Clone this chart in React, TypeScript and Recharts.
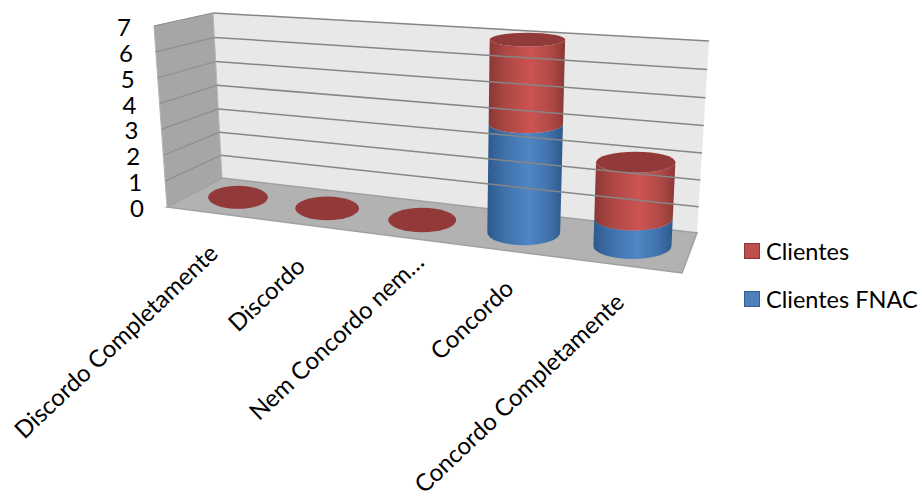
import React from "react";
import { BarChart, Bar, XAxis, YAxis, ReferenceLine, Legend, Customized } from "recharts";

// Survey answers and the two stacked respondent groups
const categories = [
  "Discordo Completamente",
  "Discordo",
  "Nem Concordo nem…",
  "Concordo",
  "Concordo Completamente",
];
const clientesFnac = [0, 0, 0, 4, 1];
const clientes = [0, 0, 0, 3, 2];
const valueTicks = [0, 1, 2, 3, 4, 5, 6, 7];

const rows = categories.map((categoria, i) => ({
  categoria,
  "Clientes FNAC": clientesFnac[i],
  Clientes: clientes[i],
}));

// Size of the flat plot that Recharts lays out before it is projected into the 3D box
const WIDTH = 922;
const HEIGHT = 500;
const MARGIN = { top: 20, right: 220, bottom: 150, left: 100 };
const Y_AXIS_W = 40;
const X_AXIS_H = 30;
const PLOT = {
  left: MARGIN.left + Y_AXIS_W,
  top: MARGIN.top,
  width: WIDTH - MARGIN.left - MARGIN.right - Y_AXIS_W,
  height: HEIGHT - MARGIN.top - MARGIN.bottom - X_AXIS_H,
};
const FONT = "Lato, 'Open Sans', sans-serif";
const LEGEND_SIZE = 23.5;
const CATEGORY_SIZE = 24;

type Pt = [number, number];

// Maps the unit square onto a quad given as bottom-left, bottom-right, top-right, top-left
function homography(p0: Pt, p1: Pt, p2: Pt, p3: Pt) {
  const dx1 = p1[0] - p2[0];
  const dx2 = p3[0] - p2[0];
  const sx = p0[0] - p1[0] + p2[0] - p3[0];
  const dy1 = p1[1] - p2[1];
  const dy2 = p3[1] - p2[1];
  const sy = p0[1] - p1[1] + p2[1] - p3[1];
  const det = dx1 * dy2 - dx2 * dy1;
  const g = (sx * dy2 - dx2 * sy) / det;
  const h = (dx1 * sy - sx * dy1) / det;
  const a = p1[0] - p0[0] + g * p1[0];
  const b = p3[0] - p0[0] + h * p3[0];
  const d = p1[1] - p0[1] + g * p1[1];
  const e = p3[1] - p0[1] + h * p3[1];
  return (u: number, v: number): Pt => {
    const w = g * u + h * v + 1;
    return [(a * u + b * v + p0[0]) / w, (d * u + e * v + p0[1]) / w];
  };
}

// Corners of the 3D box
const BACK_BL: Pt = [222, 178];
const BACK_BR: Pt = [697, 233];
const BACK_TR: Pt = [709, 41];
const BACK_TL: Pt = [213, 13];
const FRONT_BL: Pt = [167, 207];
const FRONT_BR: Pt = [682, 273];
const FRONT_TL: Pt = [154, 26];

const backWall = homography(BACK_BL, BACK_BR, BACK_TR, BACK_TL);
const barPlane = homography([195, 192], [689, 253], [699, 50], [188, 19]);

const toU = (x: number) => (x - PLOT.left) / PLOT.width;
const toV = (y: number) => (PLOT.top + PLOT.height - y) / PLOT.height;
const poly = (pts: Pt[]) => pts.map((p) => p.join(",")).join(" ");
// The closer a disc is to the floor, the more of its face is visible
const discTilt = (y: number) => 5.8 + 0.029 * y;

function disc(xLeft: number, xRight: number, yFlat: number) {
  const v = toV(yFlat);
  const l = barPlane(toU(xLeft), v);
  const r = barPlane(toU(xRight), v);
  const cy = (l[1] + r[1]) / 2;
  return { cx: (l[0] + r[0]) / 2, cy, rx: (r[0] - l[0]) / 2, ry: discTilt(cy) };
}

function Cylinder(props: any) {
  const { x, y, width, height, bodyFill, capFill, showCap } = props;
  const bottom = disc(x, x + width, y + height);
  const top = disc(x, x + width, y);
  const side =
    `M${bottom.cx - bottom.rx} ${bottom.cy} ` +
    `A${bottom.rx} ${bottom.ry} 0 0 0 ${bottom.cx + bottom.rx} ${bottom.cy} ` +
    `L${top.cx + top.rx} ${top.cy} ` +
    `A${top.rx} ${top.ry} 0 0 1 ${top.cx - top.rx} ${top.cy} Z`;
  return (
    <g>
      {height > 0 && <path d={side} fill={bodyFill} />}
      {showCap && <ellipse cx={top.cx} cy={top.cy} rx={top.rx} ry={top.ry} fill={capFill} />}
    </g>
  );
}

// Walls and floor of the box, painted behind the grid and the cylinders
function Box() {
  return (
    <g>
      <polygon points={poly([BACK_BL, BACK_BR, BACK_TR, BACK_TL])} fill="#e8e8e8" />
      <polygon points={poly([FRONT_BL, BACK_BL, BACK_TL, FRONT_TL])} fill="#a6a6a6" stroke="#b4b4b4" />
      <polygon points={poly([FRONT_BL, FRONT_BR, BACK_BR, BACK_BL])} fill="#b2b2b2" stroke="#a0a0a0" strokeWidth={1.5} />
    </g>
  );
}

// One value line across the back wall and on along the side wall
function GridLine(props: any) {
  const v = toV(props.y1);
  if (v < 0.001) return <g />;
  const a = backWall(0, v);
  const b = backWall(1, v);
  const front: Pt = [FRONT_BL[0] + (FRONT_TL[0] - FRONT_BL[0]) * v, FRONT_BL[1] + (FRONT_TL[1] - FRONT_BL[1]) * v];
  return (
    <g>
      <line x1={a[0]} y1={a[1]} x2={b[0]} y2={b[1]} stroke="#868686" strokeWidth={1.5} />
      <line x1={a[0]} y1={a[1]} x2={front[0]} y2={front[1]} stroke="#8e8e8e" strokeWidth={1.2} />
    </g>
  );
}

function ValueTick(props: any) {
  const v = toV(props.y);
  const px = FRONT_BL[0] + (FRONT_TL[0] - FRONT_BL[0]) * v - 30;
  const py = FRONT_BL[1] + (FRONT_TL[1] - FRONT_BL[1]) * v + 10;
  return (
    <text x={px} y={py} textAnchor="middle" fontFamily={FONT} fontSize={24} fill="#000">
      {props.payload.value}
    </text>
  );
}

// Where each rotated answer label ends, relative to the foot of its cylinder
const LABEL_NUDGE: Pt[] = [
  [-18, 58],
  [-20, 60],
  [4, 44],
  [-8, 58],
  [-6, 58],
];

function CategoryTick(props: any) {
  const base = barPlane(toU(props.x), 0);
  const nudge = LABEL_NUDGE[props.index] ?? [0, 0];
  const x = base[0] + nudge[0];
  const y = base[1] + nudge[1];
  return (
    <text
      x={x}
      y={y}
      textAnchor="end"
      fontFamily={FONT}
      fontSize={CATEGORY_SIZE}
      fill="#000"
      transform={`rotate(-43.4 ${x} ${y})`}
    >
      {props.payload.value}
    </text>
  );
}

const legendItems = [
  { name: "Clientes", fill: "#c0504d", stroke: "#8c3836" },
  { name: "Clientes FNAC", fill: "#4f81bd", stroke: "#385d8a" },
];

function LegendBox() {
  return (
    <div style={{ fontFamily: FONT, fontSize: LEGEND_SIZE, color: "#000" }}>
      {legendItems.map((item) => (
        <div key={item.name} style={{ display: "flex", alignItems: "center", height: 48, whiteSpace: "nowrap" }}>
          <span
            style={{
              width: 14,
              height: 14,
              marginRight: 6,
              background: item.fill,
              border: `1.5px solid ${item.stroke}`,
              display: "inline-block",
            }}
          />
          {item.name}
        </div>
      ))}
    </div>
  );
}

export default function App() {
  return (
    <div style={{ position: "absolute", left: 0, top: 0, width: WIDTH, height: HEIGHT, overflow: "hidden" }}>
      <BarChart width={WIDTH} height={HEIGHT} data={rows} margin={MARGIN} barCategoryGap="15.5%">
        <defs>
          <linearGradient id="corpoVermelho" x1="0" y1="0" x2="1" y2="0">
            <stop offset="0" stopColor="#8a3836" />
            <stop offset="0.22" stopColor="#ad4744" />
            <stop offset="0.55" stopColor="#cc5451" />
            <stop offset="0.8" stopColor="#b34a47" />
            <stop offset="1" stopColor="#8a3836" />
          </linearGradient>
          <linearGradient id="corpoAzul" x1="0" y1="0" x2="1" y2="0">
            <stop offset="0" stopColor="#2d5a8c" />
            <stop offset="0.22" stopColor="#3f70aa" />
            <stop offset="0.55" stopColor="#4f86c6" />
            <stop offset="0.8" stopColor="#4273ad" />
            <stop offset="1" stopColor="#2d5a8c" />
          </linearGradient>
        </defs>
        <Customized component={<Box />} />
        <XAxis
          dataKey="categoria"
          height={X_AXIS_H}
          axisLine={false}
          tickLine={false}
          interval={0}
          tick={(p: any) => <CategoryTick {...p} />}
        />
        <YAxis
          domain={[0, 7]}
          ticks={valueTicks}
          width={Y_AXIS_W}
          axisLine={false}
          tickLine={false}
          interval={0}
          tick={(p: any) => <ValueTick {...p} />}
        />
        <Legend
          layout="vertical"
          align="center"
          verticalAlign="middle"
          content={() => <LegendBox />}
          wrapperStyle={{ position: "absolute", left: 744, top: 227, width: 178 }}
        />
        {valueTicks.map((t) => (
          <ReferenceLine key={t} y={t} ifOverflow="visible" shape={(p: any) => <GridLine {...p} />} />
        ))}
        <Bar
          dataKey="Clientes FNAC"
          stackId="respostas"
          isAnimationActive={false}
          fill="#4f81bd"
          shape={(p: any) => <Cylinder {...p} bodyFill="url(#corpoAzul)" capFill="#3d6fa8" showCap={false} />}
        />
        <Bar
          dataKey="Clientes"
          stackId="respostas"
          isAnimationActive={false}
          fill="#c0504d"
          shape={(p: any) => <Cylinder {...p} bodyFill="url(#corpoVermelho)" capFill="#923a39" showCap />}
        />
      </BarChart>
    </div>
  );
}
